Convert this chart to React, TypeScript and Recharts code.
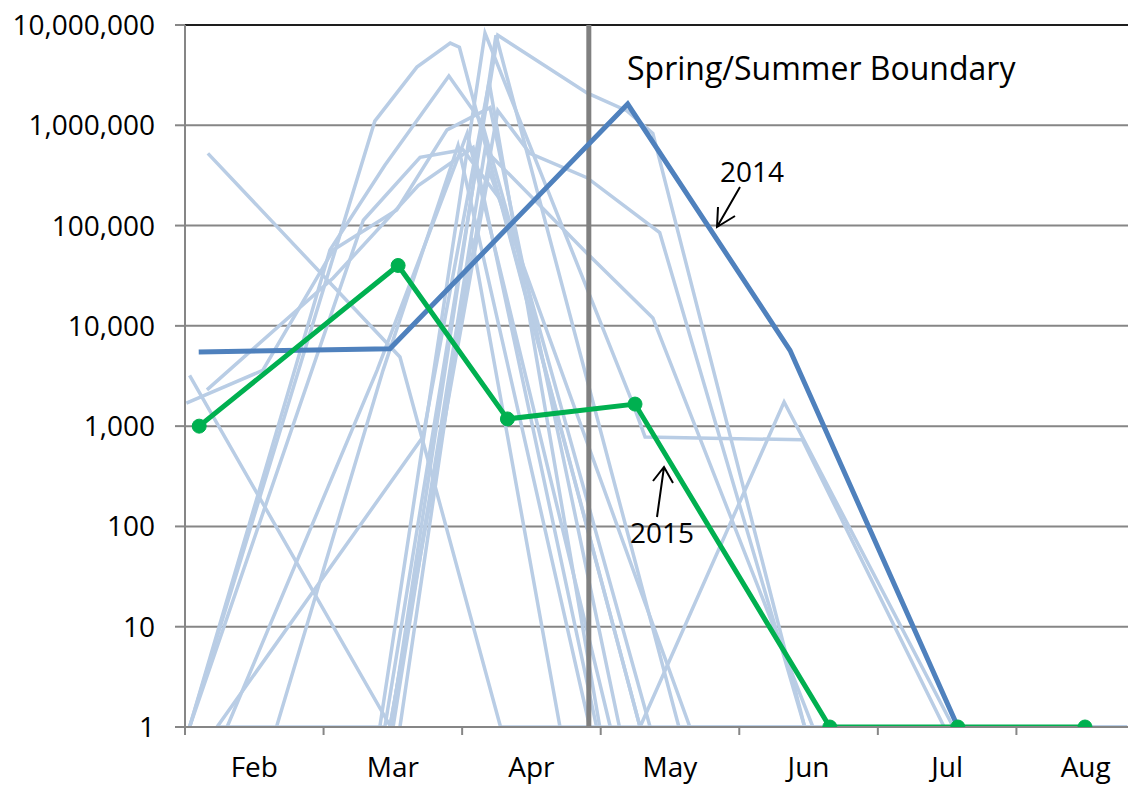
import React from 'react'
import { LineChart, Line, XAxis, YAxis, CartesianGrid, ReferenceLine } from 'recharts'

// x = days since the Feb tick, y = count (zeros shown at 1 on the log axis)
const monthLabels = ['Feb', 'Mar', 'Apr', 'May', 'Jun', 'Jul', 'Aug']
const monthTicks = [0, 30.3, 60.6, 90.9, 121.2, 151.5, 181.8]
const yTicks = [1, 10, 100, 1000, 10000, 100000, 1000000, 10000000]
const boundaryDay = 88.3

const year2014 = [
  { d: 3, v: 5500 },
  { d: 44.8, v: 5900 },
  { d: 96.8, v: 1630000 },
  { d: 132.3, v: 5700 },
  { d: 169, v: 1 },
]

const year2015 = [
  { d: 3.1, v: 1000 },
  { d: 46.6, v: 40000 },
  { d: 70.5, v: 1180 },
  { d: 98.4, v: 1660 },
  { d: 141, v: 1 },
  { d: 169, v: 1 },
  { d: 196.8, v: 1 },
]

const hist01 = [{ d: 5, v: 525000 }, { d: 47, v: 4900 }, { d: 69, v: 1 }, { d: 206, v: 1 }]
const hist02 = [{ d: 1, v: 3200 }, { d: 45, v: 1 }, { d: 68, v: 7900000 }, { d: 108, v: 1 }, { d: 206, v: 1 }]
const hist03 = [{ d: 1, v: 1 }, { d: 41.5, v: 1100000 }, { d: 50.7, v: 3800000 }, { d: 58, v: 6600000 }, { d: 60, v: 6000000 }, { d: 99.5, v: 1 }]
const hist04 = [{ d: 1, v: 1 }, { d: 31.7, v: 57000 }, { d: 43.7, v: 400000 }, { d: 57.7, v: 3100000 }, { d: 65, v: 1050000 }, { d: 101.7, v: 1 }]
const hist05 = [{ d: 1, v: 1 }, { d: 39, v: 113000 }, { d: 51.4, v: 480000 }, { d: 60.8, v: 570000 }, { d: 69, v: 180000 }, { d: 99.5, v: 1 }, { d: 131, v: 1740 }, { d: 168, v: 1 }, { d: 206, v: 1 }]
const hist06 = [{ d: 0.3, v: 1700 }, { d: 17, v: 3600 }, { d: 32.4, v: 57000 }, { d: 46.3, v: 143000 }, { d: 57.3, v: 900000 }, { d: 66.7, v: 1500000 }, { d: 95, v: 1 }]
const hist07 = [{ d: 7, v: 1 }, { d: 52, v: 780 }, { d: 66.5, v: 2700000 }, { d: 90.7, v: 1 }]
const hist08 = [{ d: 9.2, v: 1 }, { d: 42, v: 3600 }, { d: 61.7, v: 830000 }, { d: 93, v: 1 }]
const hist09 = [{ d: 20, v: 1 }, { d: 43.3, v: 3600 }, { d: 59.7, v: 630000 }, { d: 88.5, v: 1 }]
const hist10 = [{ d: 7, v: 1 }, { d: 43.7, v: 1 }, { d: 68.4, v: 7900000 }, { d: 87.9, v: 2100000 }, { d: 96.6, v: 1400000 }, { d: 102.3, v: 830000 }, { d: 135.5, v: 1 }]
const hist11 = [{ d: 44.8, v: 1 }, { d: 68.4, v: 1400000 }, { d: 75.4, v: 525000 }, { d: 87.9, v: 300000 }, { d: 103.8, v: 85000 }, { d: 135.5, v: 1 }]
const hist12 = [{ d: 45.5, v: 1 }, { d: 65.6, v: 570000 }, { d: 87.9, v: 53000 }, { d: 102.3, v: 12000 }, { d: 137.3, v: 1 }]
const hist13 = [{ d: 42.6, v: 1 }, { d: 65.6, v: 8300000 }, { d: 97.9, v: 1700 }, { d: 100.6, v: 780 }, { d: 135, v: 730 }, { d: 166, v: 1 }]
const hist14 = [{ d: 47, v: 1 }, { d: 62.7, v: 75000 }, { d: 82, v: 1 }]
const hist15 = [{ d: 44.8, v: 1 }, { d: 66.5, v: 350000 }, { d: 110.4, v: 1 }]
const hist16 = [{ d: 4.8, v: 2300 }, { d: 32.4, v: 30000 }, { d: 51, v: 250000 }, { d: 63, v: 600000 }, { d: 90, v: 1 }]

const history = [hist01, hist02, hist03, hist04, hist05, hist06, hist07, hist08,
  hist09, hist10, hist11, hist12, hist13, hist14, hist15, hist16]

const W = 1138
const H = 785
const Y_AXIS_W = 185
const MARGIN_R = 10
const X_MAX = 206.2
const halfMonthPx = ((W - Y_AXIS_W - MARGIN_R) / X_MAX) * (30.3 / 2)

const font = "'Open Sans', sans-serif"

const MonthTick = (props: any) => {
  const { x, y, index } = props
  return (
    <text x={x + halfMonthPx} y={y} dy={40} textAnchor="middle" fontSize={28} fontFamily={font} fill="#000">
      {monthLabels[index]}
    </text>
  )
}

const App = () => {
  return (
    <div style={{ position: 'absolute', left: 0, top: 0, width: W, height: H, background: '#fff' }}>
      <LineChart width={W} height={H} margin={{ top: 25, right: MARGIN_R, left: 0, bottom: 0 }}>
        <CartesianGrid vertical={false} stroke="#868686" strokeWidth={2} />
        <XAxis
          type="number"
          dataKey="d"
          domain={[0, X_MAX]}
          ticks={monthTicks}
          height={58}
          tickSize={8}
          tick={<MonthTick />}
          stroke="#868686"
          strokeWidth={2}
          allowDataOverflow
        />
        <YAxis
          type="number"
          scale="log"
          domain={[1, 10000000]}
          ticks={yTicks}
          width={Y_AXIS_W}
          tickSize={10}
          tickMargin={20}
          tickFormatter={(v: number) => v.toLocaleString('en-US')}
          tick={{ fontSize: 28, fontFamily: font, fill: '#000' }}
          stroke="#868686"
          strokeWidth={2}
          allowDataOverflow
        />
        <ReferenceLine y={10000000} stroke="#1e1e1e" strokeWidth={2} />
        {history.map((h, i) => (
          <Line
            key={i}
            data={h}
            dataKey="v"
            type="linear"
            stroke="#B9CDE5"
            strokeWidth={3.5}
            dot={false}
            isAnimationActive={false}
          />
        ))}
        <ReferenceLine x={boundaryDay} stroke="#808080" strokeWidth={5} />
        <Line
          data={year2014}
          dataKey="v"
          type="linear"
          stroke="#4F81BD"
          strokeWidth={5}
          dot={false}
          isAnimationActive={false}
        />
        <Line
          data={year2015}
          dataKey="v"
          type="linear"
          stroke="#00B050"
          strokeWidth={5}
          dot={{ r: 7, fill: '#00B050', stroke: '#00B050', strokeWidth: 1 }}
          isAnimationActive={false}
        />
      </LineChart>
      <svg
        width={W}
        height={H}
        style={{ position: 'absolute', left: 0, top: 0, pointerEvents: 'none' }}
      >
        <text x={627} y={80} fontSize={32} fontFamily={font} fill="#000">Spring/Summer Boundary</text>
        <text x={720} y={182} fontSize={28} fontFamily={font} fill="#000">2014</text>
        <path d="M740,187 L717,227 M718,207 L717,227 L735,216" stroke="#000" strokeWidth={2} fill="none" />
        <text x={630} y={543} fontSize={28} fontFamily={font} fill="#000">2015</text>
        <path d="M657,517 L664,467 M653,481 L664,467 L673,483" stroke="#000" strokeWidth={2} fill="none" />
      </svg>
    </div>
  )
}

export default App
